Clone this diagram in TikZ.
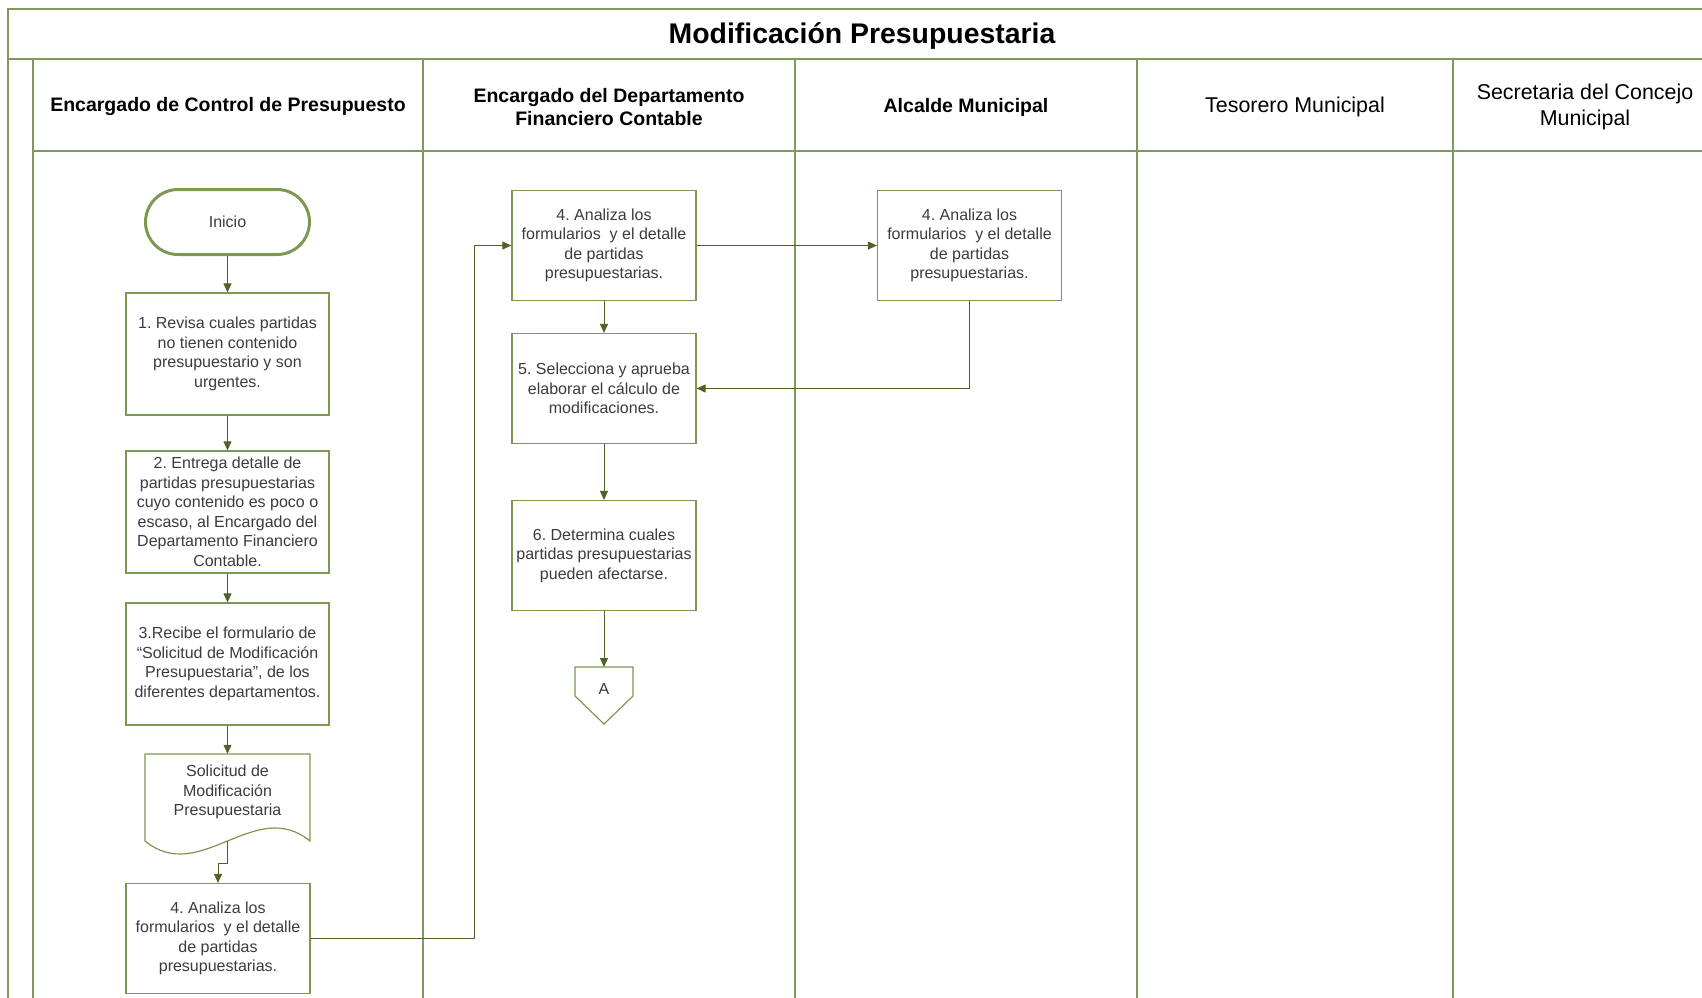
\documentclass[tikz,border=0pt]{standalone}
\usepackage{fontspec}
\setmainfont{Liberation Sans}
\frenchspacing
\usetikzlibrary{arrows.meta,calc}
\definecolor{laneline}{HTML}{7F9A5C}
\definecolor{boxline}{HTML}{7D9850}
\definecolor{flowline}{HTML}{4F6228}
\definecolor{boxtext}{HTML}{3C3C3C}
\begin{document}
\begin{tikzpicture}[x=1pt,y=-1pt,
  lane/.style={draw=laneline,line width=1.5pt},
  stepbox/.style={draw=boxline,line width=1.2pt,fill=white,align=center,text=boxtext,
    font=\fontsize{16}{19.5}\selectfont,inner sep=0pt},
  tallbox/.style={stepbox,minimum width=203pt,minimum height=122pt},
  smallbox/.style={stepbox,minimum width=184pt,minimum height=110pt},
  steptext/.style={align=center,text=boxtext,font=\fontsize{16}{19.5}\selectfont,inner sep=0pt},
  flow/.style={draw=flowline,line width=1pt,-{Triangle[length=9pt,width=8pt]}},
  lanehead/.style={align=center,font=\fontsize{19.5}{23}\selectfont\bfseries},
  laneheadlight/.style={align=center,font=\fontsize{21.4}{26}\selectfont},
]
\useasboundingbox (0,0) rectangle (1702,998);

% swimlane frame
\draw[lane] (8,998) -- (8,9) -- (1702,9);
\draw[lane] (8,59) -- (1702,59);
\draw[lane] (33,59) -- (33,998);
\draw[lane] (33,151) -- (1702,151);
\foreach \lx in {423,795,1137,1453}
  \draw[lane] (\lx,59) -- (\lx,998);

% title and lane headers
\node[font=\fontsize{28.4}{32}\selectfont\bfseries] (title) at (862,36) {Modificación Presupuestaria};
\node[lanehead] (h1) at (228,107) {Encargado de Control de Presupuesto};
\node[lanehead] (h2) at (609,107) {Encargado del Departamento\\Financiero Contable};
\node[lanehead] (h3) at (966,107) {Alcalde Municipal};
\node[laneheadlight] (h4) at (1295,107) {Tesorero Municipal};
\node[laneheadlight] (h5) at (1585,107) {Secretaria del Concejo\\Municipal};

% lane 1
\node[draw=boxline,line width=3pt,rounded corners=32.5pt,minimum width=164pt,minimum height=65pt,
  inner sep=0pt,text=boxtext,font=\fontsize{16}{19.5}\selectfont] (inicio) at (227.5,222) {Inicio};
\node[tallbox] (b1) at (227.5,354) {1. Revisa cuales partidas\\no tienen contenido\\presupuestario y son\\urgentes.};
\node[tallbox] (b2) at (227.5,512) {2. Entrega detalle de\\partidas presupuestarias\\cuyo contenido es poco o\\escaso, al Encargado del\\Departamento Financiero\\Contable.};
\node[tallbox] (b3) at (227.5,664) {3.Recibe el formulario de\\“Solicitud de Modificación\\Presupuestaria”, de los\\diferentes departamentos.};

% document symbol
\node[minimum width=165pt,minimum height=87pt,inner sep=0pt] (doc) at (227.5,797.5) {};
\draw[draw=boxline,line width=1.2pt,fill=white]
  (145,841) -- (145,754) -- (310,754) -- (310,841)
  .. controls (255,796) and (200,886) .. (145,841) -- cycle;
\node[steptext] (doctext) at (227.5,792) {Solicitud de\\Modificación\\Presupuestaria};
\coordinate (docout) at (227.5,841);

\node[smallbox] (b4) at (218,938.5) {4. Analiza los\\formularios\ \ y el detalle\\de partidas\\presupuestarias.};

% lane 2
\node[smallbox] (c4) at (604,245.5) {4. Analiza los\\formularios\ \ y el detalle\\de partidas\\presupuestarias.};
\node[smallbox] (c5) at (604,388.5) {5. Selecciona y aprueba\\elaborar el cálculo de\\modificaciones.};
\node[smallbox] (c6) at (604,555.5) {6. Determina cuales\\partidas presupuestarias\\pueden afectarse.};

% off-page connector
\draw[draw=boxline,line width=1.2pt,fill=white]
  (575,667) -- (633,667) -- (633,696) -- (604,724) -- (575,696) -- cycle;
\node[steptext] (offA) at (604,689) {A};
\coordinate (offAtop) at (604,667);

% lane 3
\node[smallbox] (d4) at (969.5,245.5) {4. Analiza los\\formularios\ \ y el detalle\\de partidas\\presupuestarias.};

% connectors
\draw[flow] (inicio.south) -- (b1.north);
\draw[flow] (b1.south) -- (b2.north);
\draw[flow] (b2.south) -- (b3.north);
\draw[flow] (b3.south) -- (doc.north);
\draw[flow] (docout) -- ++(0,22) -| (b4.north);
\draw[flow] (b4.east) -- ++(164,0) |- (c4.west);
\draw[flow] (c4.east) -- (d4.west);
\draw[flow] (c4.south) -- (c5.north);
\draw[flow] (d4.south) |- (c5.east);
\draw[flow] (c5.south) -- (c6.north);
\draw[flow] (c6.south) -- (offAtop);
\end{tikzpicture}
\end{document}
